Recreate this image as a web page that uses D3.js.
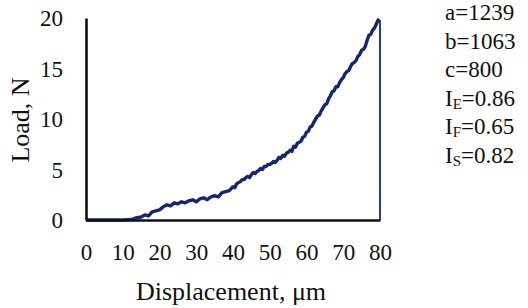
<!DOCTYPE html>
<html>
<head>
<meta charset="utf-8">
<script src="https://cdn.jsdelivr.net/npm/d3@7"></script>
<style>
  body { margin: 0; background: #fff; }
  svg text { font-family: "Liberation Serif", "Times New Roman", serif; fill: #111; }
</style>
</head>
<body>
<div id="chart"></div>
<script>
// loading curve (displacement um, load N)
const displacement = [0, 5, 10, 12.5, 13.5, 15, 16, 17, 18, 19, 20, 21, 22, 23, 24, 25, 26, 27, 28, 29,
  30, 31, 32, 33, 34, 35, 36, 37, 38, 39, 40, 40.5, 41, 41.5, 42, 42.5, 43, 43.5, 44, 44.5, 45, 45.5, 46, 46.5, 47, 47.5, 48, 48.5, 49, 49.5,
  50, 50.5, 51, 51.5, 52, 52.5, 53, 53.5, 54, 54.5, 55, 55.5, 56, 56.5, 57, 57.5, 58, 58.5, 59, 59.5,
  60, 60.5, 61, 61.5, 62, 62.5, 63, 63.5, 64, 64.5, 65, 65.5, 66, 66.5, 67, 67.5, 68, 68.5, 69, 69.5,
  70, 70.5, 71, 71.5, 72, 72.5, 73, 73.5, 74, 74.5, 75, 75.5, 76, 76.5, 77, 77.5, 78, 78.5, 79, 79.5, 79.8];
const load = [0, 0, 0, 0.05, 0.2, 0.3, 0.5, 0.4, 0.8, 0.9, 1.0, 1.3, 1.5, 1.4, 1.7, 1.6, 1.8, 1.7, 1.9, 2.0,
  1.8, 2.1, 2.2, 2.0, 2.3, 2.4, 2.3, 2.7, 2.8, 2.9, 3.3, 3.2, 3.6, 3.7, 3.8, 4.0, 4.0, 4.2, 4.3, 4.2, 4.5, 4.7, 4.6, 4.8, 4.9, 5.1, 5.0, 5.3, 5.3, 5.5,
  5.5, 5.6, 5.8, 5.7, 5.9, 6.2, 6.1, 6.4, 6.3, 6.6, 6.7, 6.9, 6.8, 7.3, 7.2, 7.6, 7.7, 7.8, 8.2, 8.3,
  8.7, 8.8, 9.2, 9.3, 9.7, 10.0, 10.3, 10.4, 10.8, 11.1, 11.4, 11.5, 12.0, 12.3, 12.7, 12.8, 13.2, 13.2, 13.6, 13.9,
  14.1, 14.5, 14.7, 14.8, 15.2, 15.5, 15.6, 15.8, 16.2, 16.4, 16.8, 16.9, 17.2, 17.8, 18.3, 18.4, 18.8, 19.0, 19.4, 19.8, 19.9];
// unloading: straight drop at max displacement
const unloadX = [80, 80];
const unloadY = [19.8, 0];

const xTicks = [0, 10, 20, 30, 40, 50, 60, 70, 80];
const yTicks = [0, 5, 10, 15, 20];
const notes = [["a=1239"], ["b=1063"], ["c=800"], ["I", "E", "=0.86"], ["I", "F", "=0.65"], ["I", "S", "=0.82"]];

const W = 528, H = 308;
const svg = d3.select("#chart").append("svg").attr("width", W).attr("height", H);

const x = d3.scaleLinear().domain([0, 80]).range([86, 380]);
const y = d3.scaleLinear().domain([0, 20]).range([220, 18]);

const line = d3.line().x(d => x(d[0])).y(d => y(d[1]));

svg.append("path")
    .datum(displacement.map((d, i) => [d, load[i]]))
    .attr("fill", "none")
    .attr("stroke", "#13296b")
    .attr("stroke-width", 3.4)
    .attr("stroke-linejoin", "round")
    .attr("d", line);

svg.append("path")
    .datum(unloadX.map((d, i) => [d, unloadY[i]]))
    .attr("fill", "none")
    .attr("stroke", "#13296b")
    .attr("stroke-width", 1.8)
    .attr("d", line);

// axes, no tick marks
const xAxis = svg.append("g")
    .attr("transform", "translate(0,220)")
    .call(d3.axisBottom(x).tickValues(xTicks).tickSize(0).tickPadding(24));
const yAxis = svg.append("g")
    .attr("transform", "translate(86,0)")
    .call(d3.axisLeft(y).tickValues(yTicks).tickSize(0).tickPadding(23));

[xAxis, yAxis].forEach(g => {
    g.select(".domain").attr("stroke", "#111").attr("stroke-width", 2.6);
    g.selectAll("text").style("font-size", "23px").attr("font-family", null);
});
yAxis.selectAll("text").attr("dy", "0.34em");

svg.append("text")
    .attr("transform", "translate(29,120) rotate(-90)")
    .attr("text-anchor", "middle")
    .style("font-size", "26px")
    .text("Load, N");

svg.append("text")
    .attr("x", 231)
    .attr("y", 300)
    .attr("text-anchor", "middle")
    .style("font-size", "26px")
    .text("Displacement, μm");

// parameter notes on the right
const note = svg.append("g").selectAll("text")
    .data(notes)
    .join("text")
    .attr("x", 445)
    .attr("y", (d, i) => 20 + i * 28.5)
    .style("font-size", "23px");

note.each(function (d) {
    const t = d3.select(this);
    if (d.length === 1) { t.text(d[0]); return; }
    t.append("tspan").text(d[0]);
    t.append("tspan").attr("dy", 3).style("font-size", "15px").text(d[1]);
    t.append("tspan").attr("dy", -3).text(d[2]);
});
</script>
</body>
</html>
